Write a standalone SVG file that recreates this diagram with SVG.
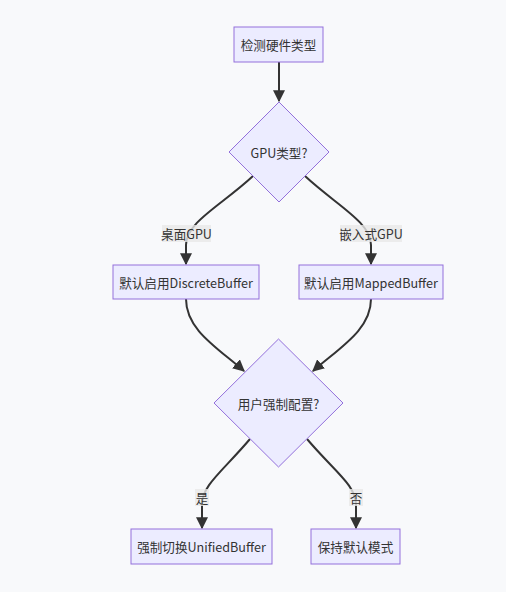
<svg xmlns="http://www.w3.org/2000/svg" width="506" height="592" viewBox="0 0 506 592">
<style>
.node rect,.node polygon{fill:#ECECFF;stroke:#9370DB;stroke-width:1}
text{font-family:"Noto Sans CJK SC","Noto Sans",sans-serif;font-size:12.6px;fill:#333;text-anchor:middle;dominant-baseline:central}
.edge{fill:none;stroke:#333;stroke-width:2}
.lbl{fill:#e8e8e8;opacity:0.8}
</style>
<defs>
<marker id="arr" markerUnits="userSpaceOnUse" markerWidth="12" markerHeight="12" viewBox="0 0 10 10" refX="9" refY="5" orient="auto">
<path d="M0,0 L10,5 L0,10 z" fill="#333"/>
</marker>
</defs>
<rect width="506" height="592" fill="#f8f9fb"/>
<g id="connectors">
<path class="edge" d="M279,62 L279,101" marker-end="url(#arr)"/>
<path class="edge" d="M253,176 C222,205 186,222 186,245 L186,264" marker-end="url(#arr)"/>
<path class="edge" d="M305,176 C336,205 371,222 371,245 L371,264" marker-end="url(#arr)"/>
<path class="edge" d="M186,299 C186,330 218,348 244,371" marker-end="url(#arr)"/>
<path class="edge" d="M371,299 C371,330 339,348 313,371" marker-end="url(#arr)"/>
<path class="edge" d="M250,439 C222,472 202,485 202,505 L202,528" marker-end="url(#arr)"/>
<path class="edge" d="M307,439 C335,472 356,485 356,505 L356,528" marker-end="url(#arr)"/>
<rect class="lbl" x="162" y="225" width="49" height="17"/>
<text x="186.5" y="233">桌面GPU</text>
<rect class="lbl" x="340" y="225" width="62" height="17"/>
<text x="371" y="233">嵌入式GPU</text>
<rect class="lbl" x="195" y="489" width="14" height="17"/>
<text x="202" y="497">是</text>
<rect class="lbl" x="349" y="489" width="14" height="17"/>
<text x="356" y="497">否</text>
</g>
<g id="n1" class="node"><rect x="234" y="27" width="89" height="35"/><text x="278.5" y="44.5">检测硬件类型</text></g>
<g id="n2" class="node"><polygon points="279,102 329,152 279,202 229,152"/><text x="279" y="152">GPU类型?</text></g>
<g id="n3" class="node"><rect x="113" y="265" width="146" height="34"/><text x="186" y="282">默认启用DiscreteBuffer</text></g>
<g id="n4" class="node"><rect x="299" y="265" width="144" height="34"/><text x="371" y="282">默认启用MappedBuffer</text></g>
<g id="n5" class="node"><polygon points="278.5,339 343,403 278.5,467 214,403"/><text x="278.5" y="403">用户强制配置?</text></g>
<g id="n6" class="node"><rect x="131" y="529" width="141" height="35"/><text x="201.5" y="546.5">强制切换UnifiedBuffer</text></g>
<g id="n7" class="node"><rect x="311" y="529" width="89" height="35"/><text x="355.5" y="546.5">保持默认模式</text></g>
</svg>
